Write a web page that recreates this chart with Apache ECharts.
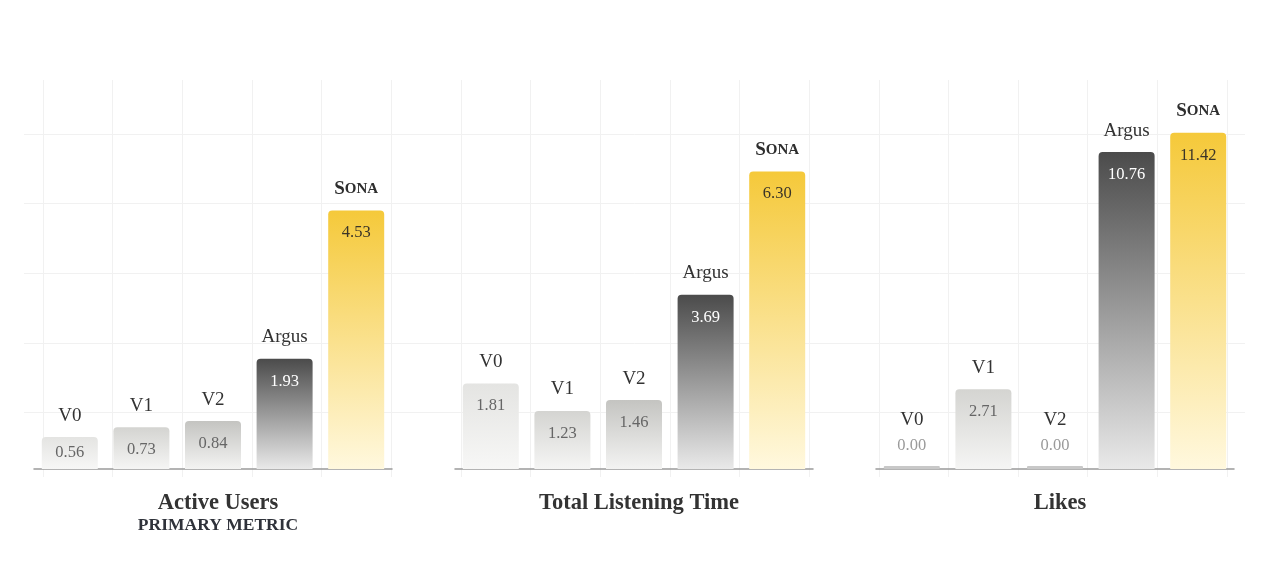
<!DOCTYPE html>
<html><head><meta charset="utf-8">
<script src="https://cdn.jsdelivr.net/npm/echarts@6/dist/echarts.min.js"></script>
<style>html,body{margin:0;padding:0;background:#fff}#c{width:1280px;height:562px}</style>
</head><body><div id="c"></div>
<script>
const categories = ['V0', 'V1', 'V2', 'Argus', 'Sona'];
const metrics = ['Active Users', 'Total Listening Time', 'Likes'];
const activeUsers = [0.56, 0.73, 0.84, 1.93, 4.53];
const listeningTime = [1.81, 1.23, 1.46, 3.69, 6.30];
const likes = [0.00, 2.71, 0.00, 10.76, 11.42];
const primaryNote = 'PRIMARY METRIC';
const panels = [activeUsers, listeningTime, likes];
const axisMax = [6.29, 7.60, 12.19];

const FONT = '"Liberation Serif", "DejaVu Serif", serif';
const panelLeft = [34, 455, 876];
const panelWidth = 358;
const plotTop = 110, plotBottom = 93, plotH = 562 - plotTop - plotBottom;

const topColors = ['#e4e4e2', '#d4d4d1', '#c4c4c1', '#4b4b4b', '#f5c93a'];
const bottomColors = ['#f7f7f6', '#f5f5f4', '#f3f3f2', '#e9e9e9', '#fff8de'];
const valueColors = ['#666666', '#666666', '#666666', '#ffffff', '#3a3428'];

function grad(j) {
  return {type: 'linear', x: 0, y: 0, x2: 0, y2: 1,
    colorStops: [{offset: 0, color: topColors[j]}, {offset: 1, color: bottomColors[j]}]};
}

const grids = [], xAxes = [], yAxes = [], series = [], titles = [];
panels.forEach((vals, i) => {
  grids.push({left: panelLeft[i], width: panelWidth, top: plotTop, height: plotH});
  xAxes.push({type: 'category', gridIndex: i, data: categories,
    axisLine: {show: true, lineStyle: {color: '#9a9a9a', width: 1.5}},
    axisTick: {show: false}, axisLabel: {show: false}, splitLine: {show: false}});
  yAxes.push({type: 'value', gridIndex: i, min: 0, max: axisMax[i], show: false, splitLine: {show: false}});
  series.push({
    type: 'bar', xAxisIndex: i, yAxisIndex: i, barWidth: 56, barGap: '-100%', barMinHeight: 3,
    z: 3,
    data: vals.map((v, j) => {
      const px = v / axisMax[i] * plotH;
      let label;
      if (v === 0) label = {position: 'top', distance: 12, color: '#9a9a9a'};
      else if (px < 36) label = {position: 'inside', color: valueColors[j]};
      else label = {position: 'insideTop', distance: 14, color: valueColors[j]};
      return {value: v,
        itemStyle: {color: v === 0 ? '#c8c8c8' : grad(j), borderRadius: v === 0 ? 1 : [4, 4, 0, 0]},
        label: label};
    }),
    label: {show: true, fontFamily: FONT, fontSize: 16.5, formatter: p => p.value.toFixed(2)}
  });
  series.push({
    type: 'bar', xAxisIndex: i, yAxisIndex: i, barWidth: 56, barGap: '-100%', barMinHeight: 3,
    silent: true, z: 2,
    itemStyle: {color: 'rgba(0,0,0,0)'},
    data: vals.map((v) => ({value: v, label: {distance: v === 0 ? 36 : 12}})),
    label: {show: true, position: 'top', fontFamily: FONT, fontSize: 19, color: '#333',
      formatter: p => p.name === 'Sona' ? '{s|S}{o|ONA}' : p.name,
      rich: {s: {fontFamily: FONT, fontSize: 19, fontWeight: 'bold', color: '#2e2e2e'},
             o: {fontFamily: FONT, fontSize: 15, fontWeight: 'bold', color: '#2e2e2e'}}}
  });
  titles.push({text: metrics[i], left: panelLeft[i] + panelWidth / 2, top: 487, textAlign: 'center',
    textStyle: {fontFamily: FONT, fontSize: 22.5, fontWeight: 'bold', color: '#333'}});
});
titles.push({text: primaryNote, left: panelLeft[0] + panelWidth / 2, top: 511, textAlign: 'center',
  textStyle: {fontFamily: FONT, fontSize: 17.5, fontWeight: 'bold', color: '#2f323a'}});

// background grid (decorative)
grids.push({left: 43, top: 80, width: 1184, height: 397});
xAxes.push({type: 'value', gridIndex: 3, min: 0, max: 17, interval: 1, axisLine: {show: false},
  axisTick: {show: false}, axisLabel: {show: false}, splitLine: {show: true, lineStyle: {color: '#f1f1f1', width: 1}}});
yAxes.push({type: 'value', gridIndex: 3, min: 0, max: 1, show: false, splitLine: {show: false}});
grids.push({left: 24, top: 134, width: 1221, height: 278.4});
xAxes.push({type: 'value', gridIndex: 4, min: 0, max: 1, show: false, splitLine: {show: false}});
yAxes.push({type: 'value', gridIndex: 4, min: 0, max: 4, interval: 1, axisLine: {show: false},
  axisTick: {show: false}, axisLabel: {show: false}, splitLine: {show: true, lineStyle: {color: '#f1f1f1', width: 1}}});

const chart = echarts.init(document.getElementById('c'), null, {renderer: 'canvas'});
chart.setOption({
  backgroundColor: '#ffffff',
  animation: false,
  title: titles,
  grid: grids,
  xAxis: xAxes,
  yAxis: yAxes,
  series: series
});
</script></body></html>
